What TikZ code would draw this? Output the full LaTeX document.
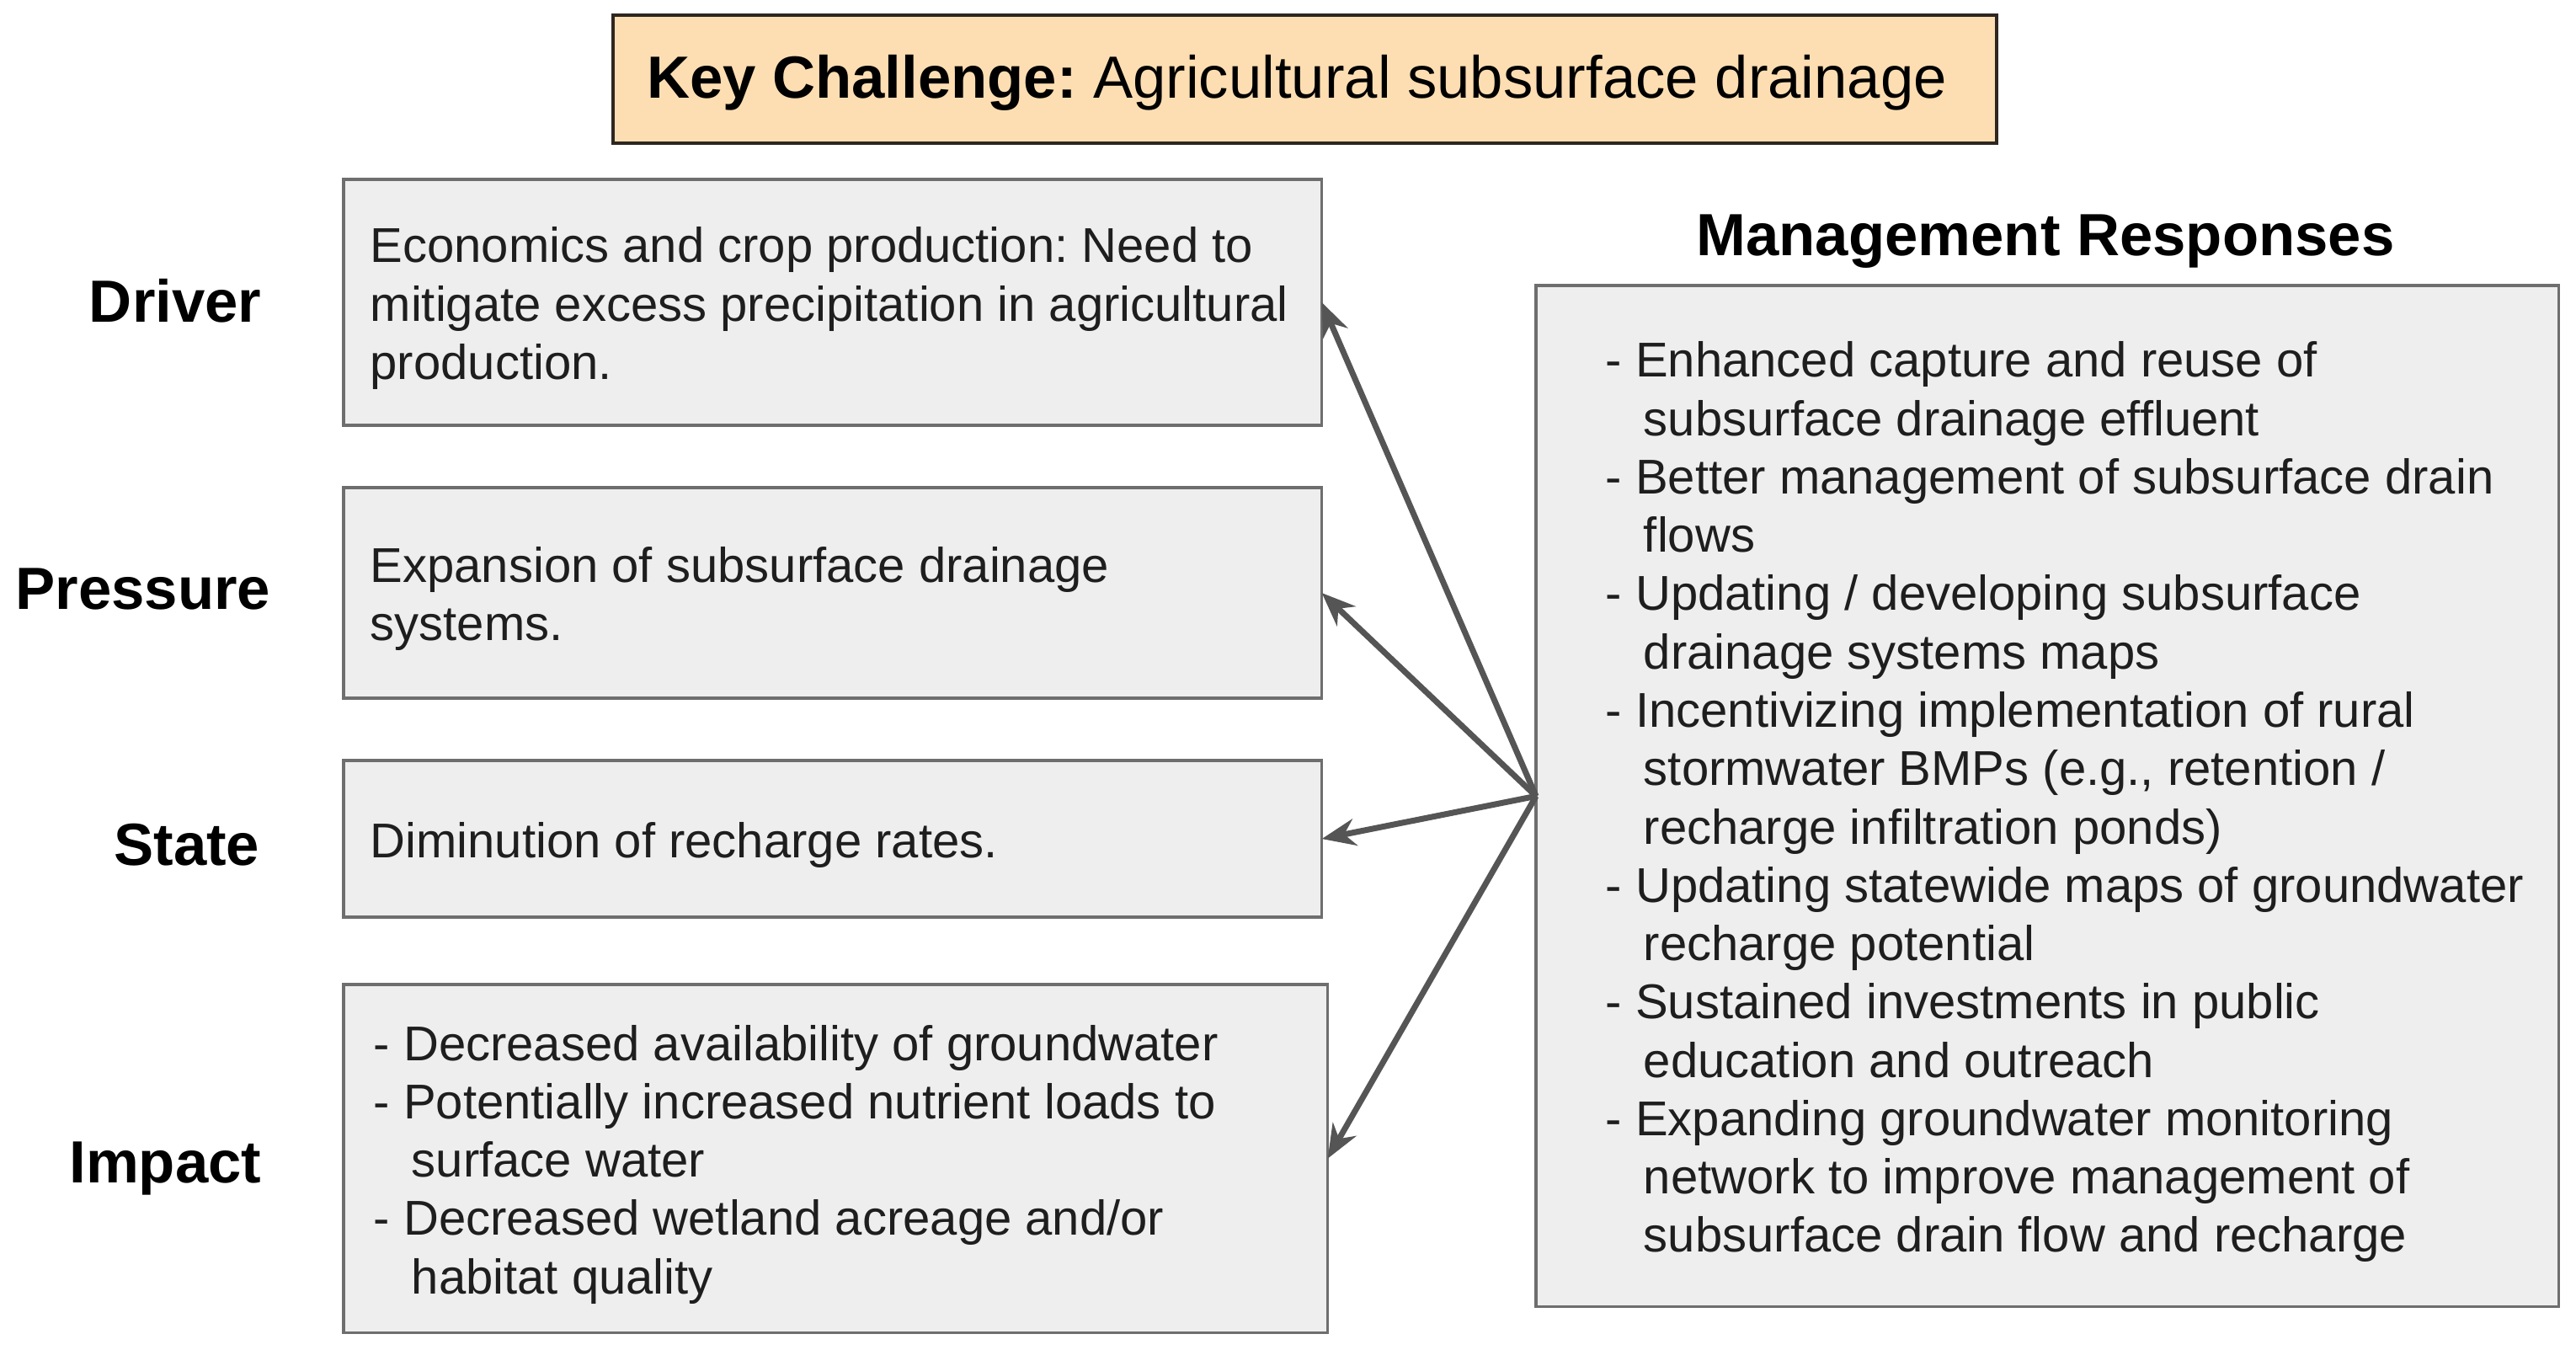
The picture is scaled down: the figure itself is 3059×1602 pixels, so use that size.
\documentclass[tikz,border=0pt]{standalone}
\usepackage{fontspec}
\setmainfont{Liberation Sans}
\usetikzlibrary{arrows.meta,calc}
\definecolor{boxfill}{HTML}{EEEEEE}
\definecolor{boxline}{HTML}{6E6E6E}
\definecolor{keyfill}{HTML}{FDDEB2}
\definecolor{keyline}{HTML}{2E2620}
\definecolor{arrowc}{HTML}{555555}
\definecolor{txt}{HTML}{1E1E1E}
\frenchspacing
\begin{document}
\begin{tikzpicture}[x=0.01cm,y=-0.01cm,
  box/.style={draw=boxline, fill=boxfill, line width=0.035cm, inner sep=0pt, outer sep=0pt, anchor=north west},
  keybox/.style={draw=keyline, fill=keyfill, line width=0.045cm, inner sep=0pt, outer sep=0pt, anchor=north west},
  bodytext/.style={font=\fontsize{16.5pt}{19.7pt}\selectfont, text=txt, align=left, inner sep=0pt, anchor=west},
  bigtext/.style={font=\fontsize{20.1pt}{24pt}\selectfont, text=black, inner sep=0pt},
  arr/.style={draw=arrowc, line width=0.07cm, -{Stealth[length=0.4cm, width=0.32cm]}}]
\useasboundingbox (0,0) rectangle (3059,1602);

% boxes
\node[keybox, minimum width=16.42cm, minimum height=1.52cm] (key) at (728,18) {};
\node[box, minimum width=11.61cm, minimum height=2.92cm] (driver) at (408,213) {};
\node[box, minimum width=11.61cm, minimum height=2.50cm] (pressure) at (408,579) {};
\node[box, minimum width=11.61cm, minimum height=1.86cm] (state) at (408,903) {};
\node[box, minimum width=11.68cm, minimum height=4.13cm] (impact) at (408,1169) {};
\node[box, minimum width=12.14cm, minimum height=12.12cm] (mgmt) at (1824,339) {};

% titles
\node[bigtext] (keytext) at (1540,98) {\textbf{Key Challenge:} Agricultural subsurface drainage};
\node[bigtext, font=\fontsize{20.1pt}{24pt}\selectfont\bfseries] (mgmttitle) at (2429,287) {Management Responses};

% row labels
\node[bigtext, anchor=east, font=\fontsize{20.1pt}{24pt}\selectfont\bfseries] (lbldriver) at (311,357) {Driver};
\node[bigtext, anchor=east, font=\fontsize{20.1pt}{24pt}\selectfont\bfseries] (lblpressure) at (322,700) {Pressure};
\node[bigtext, anchor=east, font=\fontsize{20.1pt}{24pt}\selectfont\bfseries] (lblstate) at (309,1003) {State};
\node[bigtext, anchor=east, font=\fontsize{20.1pt}{24pt}\selectfont\bfseries] (lblimpact) at (311,1387) {Impact};

% box texts
\node[bodytext] (drivert) at ([xshift=0.31cm, yshift=-0.07cm]driver.west) {Economics and crop production: Need to\\mitigate excess precipitation in agricultural\\production.};
\node[bodytext] (pressuret) at ([xshift=0.31cm, yshift=-0.07cm]pressure.west) {Expansion of subsurface drainage\\systems.};
\node[bodytext] (statet) at ([xshift=0.31cm, yshift=-0.07cm]state.west) {Diminution of recharge rates.};
\node[bodytext] (impactt) at ([xshift=0.35cm, yshift=-0.07cm]impact.west) {- Decreased availability of groundwater\\- Potentially increased nutrient loads to\\\phantom{-} \,surface water\\- Decreased wetland acreage and/or\\\phantom{-} \,habitat quality};
\node[bodytext] (mgmtt) at ([xshift=0.82cm, yshift=-0.07cm]mgmt.west) {- Enhanced capture and reuse of\\\phantom{-} \,subsurface drainage effluent\\- Better management of subsurface drain\\\phantom{-} \,flows\\- Updating / developing subsurface\\\phantom{-} \,drainage systems maps\\- Incentivizing implementation of rural\\\phantom{-} \,stormwater BMPs (e.g., retention /\\\phantom{-} \,recharge infiltration ponds)\\- Updating statewide maps of groundwater\\\phantom{-} \,recharge potential\\- Sustained investments in public\\\phantom{-} \,education and outreach\\- Expanding groundwater monitoring\\\phantom{-} \,network to improve management of\\\phantom{-} \,subsurface drain flow and recharge};

% arrows
\draw[arr] (mgmt.west) -- (driver.east);
\draw[arr] (mgmt.west) -- (pressure.east);
\draw[arr] (mgmt.west) -- (state.east);
\draw[arr] (mgmt.west) -- (impact.east);
\end{tikzpicture}
\end{document}
